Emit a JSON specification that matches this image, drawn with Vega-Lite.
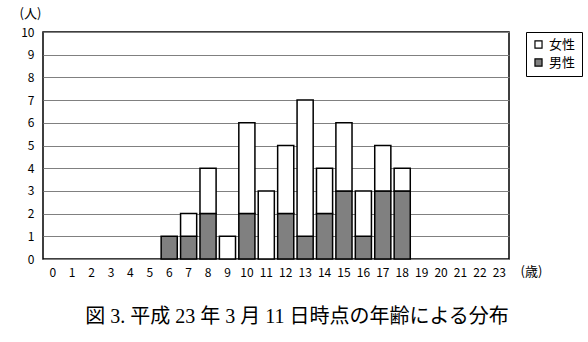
{
  "$schema": "https://vega.github.io/schema/vega-lite/v6.json",
  "width": 466,
  "height": 227,
  "autosize": {"type": "none"},
  "padding": {"left": 43, "top": 32, "right": 79, "bottom": 83},
  "background": "white",
  "config": {
    "view": {"stroke": "black", "strokeWidth": 1.5},
    "font": "Noto Sans CJK JP"
  },
  "title": {
    "text": "図 3. 平成 23 年 3 月 11 日時点の年齢による分布",
    "orient": "bottom",
    "anchor": "middle",
    "font": "Liberation Serif, Noto Sans CJK JP",
    "fontSize": 20,
    "fontWeight": "normal",
    "color": "black",
    "offset": 29,
    "dx": 21
  },
  "data": {
    "values": [
      {"age": 6, "sex": "男性", "count": 1},
      {"age": 7, "sex": "男性", "count": 1},
      {"age": 7, "sex": "女性", "count": 1},
      {"age": 8, "sex": "男性", "count": 2},
      {"age": 8, "sex": "女性", "count": 2},
      {"age": 9, "sex": "女性", "count": 1},
      {"age": 10, "sex": "男性", "count": 2},
      {"age": 10, "sex": "女性", "count": 4},
      {"age": 11, "sex": "女性", "count": 3},
      {"age": 12, "sex": "男性", "count": 2},
      {"age": 12, "sex": "女性", "count": 3},
      {"age": 13, "sex": "男性", "count": 1},
      {"age": 13, "sex": "女性", "count": 6},
      {"age": 14, "sex": "男性", "count": 2},
      {"age": 14, "sex": "女性", "count": 2},
      {"age": 15, "sex": "男性", "count": 3},
      {"age": 15, "sex": "女性", "count": 3},
      {"age": 16, "sex": "男性", "count": 1},
      {"age": 16, "sex": "女性", "count": 2},
      {"age": 17, "sex": "男性", "count": 3},
      {"age": 17, "sex": "女性", "count": 2},
      {"age": 18, "sex": "男性", "count": 3},
      {"age": 18, "sex": "女性", "count": 1}
    ]
  },
  "mark": {"type": "bar", "stroke": "black", "strokeWidth": 1.5},
  "encoding": {
    "x": {
      "field": "age",
      "type": "ordinal",
      "scale": {
        "domain": [0,1,2,3,4,5,6,7,8,9,10,11,12,13,14,15,16,17,18,19,20,21,22,23],
        "paddingInner": 0.17,
        "paddingOuter": 0.085
      },
      "axis": {
        "labelAngle": 0,
        "ticks": false,
        "domain": false,
        "labelPadding": 8,
        "labelFontSize": 12,
        "labelColor": "black",
        "title": "(歳)",
        "titleFontSize": 13,
        "titleFontWeight": "normal",
        "titleColor": "black",
        "titleAnchor": null,
        "titleAlign": "left",
        "titleBaseline": "middle",
        "titleX": 477,
        "titleY": 12
      }
    },
    "y": {
      "field": "count",
      "type": "quantitative",
      "stack": "zero",
      "scale": {"domain": [0, 10], "nice": false},
      "axis": {
        "values": [0,1,2,3,4,5,6,7,8,9,10],
        "ticks": false,
        "domain": false,
        "grid": true,
        "gridColor": "#808080",
        "gridWidth": 1,
        "gridOpacity": 1,
        "labelPadding": 9,
        "labelFontSize": 12,
        "labelColor": "black",
        "title": "(人)",
        "titleAngle": 0,
        "titleFontSize": 13,
        "titleFontWeight": "normal",
        "titleColor": "black",
        "titleAnchor": null,
        "titleAlign": "left",
        "titleBaseline": "middle",
        "titleX": -24,
        "titleY": -19
      }
    },
    "color": {
      "field": "sex",
      "type": "nominal",
      "scale": {"domain": ["女性", "男性"], "range": ["white", "#808080"]},
      "legend": {
        "title": null,
        "orient": "none",
        "legendX": 483,
        "legendY": 0,
        "strokeColor": "black",
        "padding": 6,
        "symbolType": "square",
        "symbolSize": 50,
        "symbolStrokeColor": "black",
        "symbolStrokeWidth": 1.2,
        "labelFontSize": 13,
        "labelColor": "black",
        "rowPadding": 4
      }
    },
    "order": {"field": "sex", "sort": "descending"}
  }
}
